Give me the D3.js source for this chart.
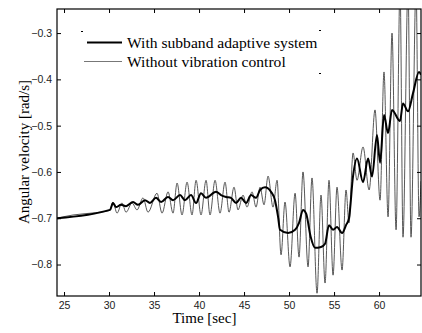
<!DOCTYPE html>
<html>
<head>
<meta charset="utf-8">
<script src="https://cdnjs.cloudflare.com/ajax/libs/d3/7.8.5/d3.min.js"></script>
<style>
  body { margin: 0; background: #fff; }
  svg { display: block; }
</style>
</head>
<body>
<div id="chart"></div>
<script>
var w = 422, h = 333;
var margin = { top: 9, right: 1, bottom: 37, left: 57 };
var width = w - margin.left - margin.right;
var height = h - margin.top - margin.bottom;

// Without vibration control (thin line): time [sec], angular velocity [rad/s]
var timeWithout = [24.22, 26, 28, 30.1,
  30.44, 30.89, 31.44, 31.89, 32.56, 33.11, 33.78, 34.33, 35.33, 35.89,
  36.56, 37.11, 37.56, 38.11, 38.67, 39.22, 39.67, 40.22, 40.78, 41.22,
  41.78, 42.33, 42.89, 43.33, 43.89, 44.33, 44.89, 45.33, 45.89, 46.33,
  46.78, 47.22, 47.67, 48.22, 48.67, 49.11, 49.55, 50.11, 50.67, 51.11,
  51.55, 52.11, 52.55, 53.11, 53.55, 54.0, 54.44, 54.89, 55.33, 55.89,
  56.33, 56.66, 57.11, 57.55, 58.22, 58.9, 59.55, 60.11, 60.55, 61.0,
  61.44, 61.89, 62.33, 62.66, 63.22, 63.55, 64.11, 64.44, 64.66];
var velWithout = [-0.700, -0.693, -0.689, -0.683,
  -0.665, -0.689, -0.667, -0.687, -0.667, -0.682, -0.656, -0.687, -0.646, -0.689,
  -0.643, -0.689, -0.624, -0.693, -0.622, -0.693, -0.618, -0.693, -0.618, -0.693,
  -0.618, -0.689, -0.622, -0.687, -0.633, -0.682, -0.650, -0.676, -0.643, -0.676,
  -0.633, -0.671, -0.609, -0.676, -0.618, -0.779, -0.665, -0.805, -0.646, -0.784,
  -0.600, -0.805, -0.613, -0.862, -0.650, -0.840, -0.618, -0.823, -0.633, -0.812,
  -0.639, -0.710, -0.559, -0.618, -0.546, -0.639, -0.466, -0.661, -0.384, -0.697,
  -0.300, -0.725, -0.200, -0.741, -0.200, -0.741, -0.200, -0.697, -0.620];

// With subband adaptive system (thick line)
var timeWith = [24.22, 30.11,
  30.44, 30.78, 31.33, 31.89, 32.67, 33.22, 34.0, 34.55, 35.22, 35.78,
  36.55, 37.11, 37.89, 38.44, 39.11, 39.67, 40.22, 40.78, 41.89, 42.44,
  43.0, 43.55, 44.11, 44.67, 45.22, 45.78, 46.33, 46.78, 47.33, 48.0,
  48.44, 48.78, 49.0, 49.89, 50.67, 51.11, 51.55, 51.9, 52.4, 52.9,
  53.55, 54.0, 54.44, 54.89, 55.33, 55.89, 56.33, 56.66, 57.11, 57.55,
  58.22, 58.78, 59.22, 59.77, 60.11, 60.55, 61.0, 61.44, 62.33, 62.66,
  63.22, 63.77, 64.44, 64.66];
var velWith = [-0.700, -0.682,
  -0.667, -0.676, -0.671, -0.674, -0.665, -0.671, -0.661, -0.667, -0.656, -0.665,
  -0.654, -0.661, -0.650, -0.661, -0.650, -0.667, -0.646, -0.656, -0.643, -0.650,
  -0.654, -0.656, -0.667, -0.656, -0.667, -0.650, -0.656, -0.639, -0.633, -0.643,
  -0.661, -0.697, -0.725, -0.732, -0.725, -0.710, -0.682, -0.690, -0.740, -0.764,
  -0.762, -0.755, -0.715, -0.725, -0.719, -0.732, -0.715, -0.700, -0.609, -0.571,
  -0.622, -0.571, -0.610, -0.520, -0.580, -0.477, -0.516, -0.466, -0.490, -0.452,
  -0.469, -0.430, -0.384, -0.390];

var xTicks = [25, 30, 35, 40, 45, 50, 55, 60];
var yTicks = [-0.3, -0.4, -0.5, -0.6, -0.7, -0.8];
var legendLabels = ["With subband adaptive system", "Without vibration control"];

var svg = d3.select("#chart")
  .append("svg")
    .attr("width", w)
    .attr("height", h);

var g = svg.append("g")
  .attr("transform", "translate(" + margin.left + "," + margin.top + ")");

// Scales
var xScale = d3.scaleLinear().domain([24.22, 64.66]).range([0, width]);
var yScale = d3.scaleLinear().domain([-0.868, -0.248]).range([height, 0]);

// Clip lines to the axes box
g.append("clipPath").attr("id", "clip")
  .append("rect").attr("width", width).attr("height", height);

var line = d3.line()
  .x(function(d) { return xScale(d[0]); })
  .y(function(d) { return yScale(d[1]); })
  .curve(d3.curveMonotoneX);

var without = timeWithout.map(function(t, i) { return [t, velWithout[i]]; });
var withCtl = timeWith.map(function(t, i) { return [t, velWith[i]]; });

g.append("path")
  .datum(without)
  .attr("clip-path", "url(#clip)")
  .attr("fill", "none")
  .attr("stroke", "#444")
  .attr("stroke-width", 0.9)
  .attr("d", line);

g.append("path")
  .datum(withCtl)
  .attr("clip-path", "url(#clip)")
  .attr("fill", "none")
  .attr("stroke", "#000")
  .attr("stroke-width", 2)
  .attr("d", line);

// Axes with inward ticks on all four sides (matlab box)
var tickFont = "'Liberation Sans', Arial, sans-serif";

g.append("g")
  .attr("transform", "translate(0," + height + ")")
  .call(d3.axisBottom(xScale).tickValues(xTicks).tickSizeInner(-4).tickSizeOuter(0).tickPadding(6));
g.append("g")
  .call(d3.axisLeft(yScale).tickValues(yTicks).tickSizeInner(-4).tickSizeOuter(0).tickPadding(5)
    .tickFormat(d3.format(".1f")));
g.append("g")
  .call(d3.axisTop(xScale).tickValues(xTicks).tickSizeInner(-4).tickSizeOuter(0).tickFormat(""));
g.append("g")
  .attr("transform", "translate(" + width + ",0)")
  .call(d3.axisRight(yScale).tickValues(yTicks).tickSizeInner(-4).tickSizeOuter(0).tickFormat(""));

g.selectAll(".domain").remove();
g.selectAll(".tick line").attr("stroke", "#000");
g.selectAll(".tick text")
  .attr("fill", "#222")
  .style("font-family", tickFont)
  .style("font-size", "10.5px");

// Box
g.append("rect")
  .attr("width", width)
  .attr("height", height)
  .attr("fill", "none")
  .attr("stroke", "#000")
  .attr("stroke-width", 1.2);

// Axis titles
var serif = "'Liberation Serif', 'Times New Roman', serif";
svg.append("text")
  .attr("x", margin.left + xScale(40.6))
  .attr("y", 323)
  .attr("text-anchor", "middle")
  .style("font-family", serif)
  .style("font-size", "15px")
  .text("Time [sec]");

svg.append("text")
  .attr("transform", "translate(29,152) rotate(-90)")
  .attr("text-anchor", "middle")
  .style("font-family", serif)
  .style("font-size", "15px")
  .text("Angular velocity [rad/s]");

// Legend
var legend = svg.append("g");
legend.append("line")
  .attr("x1", 87).attr("x2", 122).attr("y1", 42.5).attr("y2", 42.5)
  .attr("stroke", "#000").attr("stroke-width", 2);
legend.append("line")
  .attr("x1", 84).attr("x2", 122).attr("y1", 61.5).attr("y2", 61.5)
  .attr("stroke", "#777").attr("stroke-width", 1);
legend.selectAll("text")
  .data(legendLabels)
  .enter().append("text")
  .attr("x", 127)
  .attr("y", function(d, i) { return 47.5 + i * 19; })
  .style("font-family", serif)
  .style("font-size", "15.6px")
  .text(function(d) { return d; });

// leftover legend box corner marks
legend.append("line").attr("x1", 81).attr("x2", 83).attr("y1", 31.5).attr("y2", 31.5).attr("stroke", "#000");
legend.append("line").attr("x1", 319).attr("x2", 321).attr("y1", 30.5).attr("y2", 30.5).attr("stroke", "#000");
legend.append("line").attr("x1", 319).attr("x2", 321).attr("y1", 73.5).attr("y2", 73.5).attr("stroke", "#000");
</script>
</body>
</html>
